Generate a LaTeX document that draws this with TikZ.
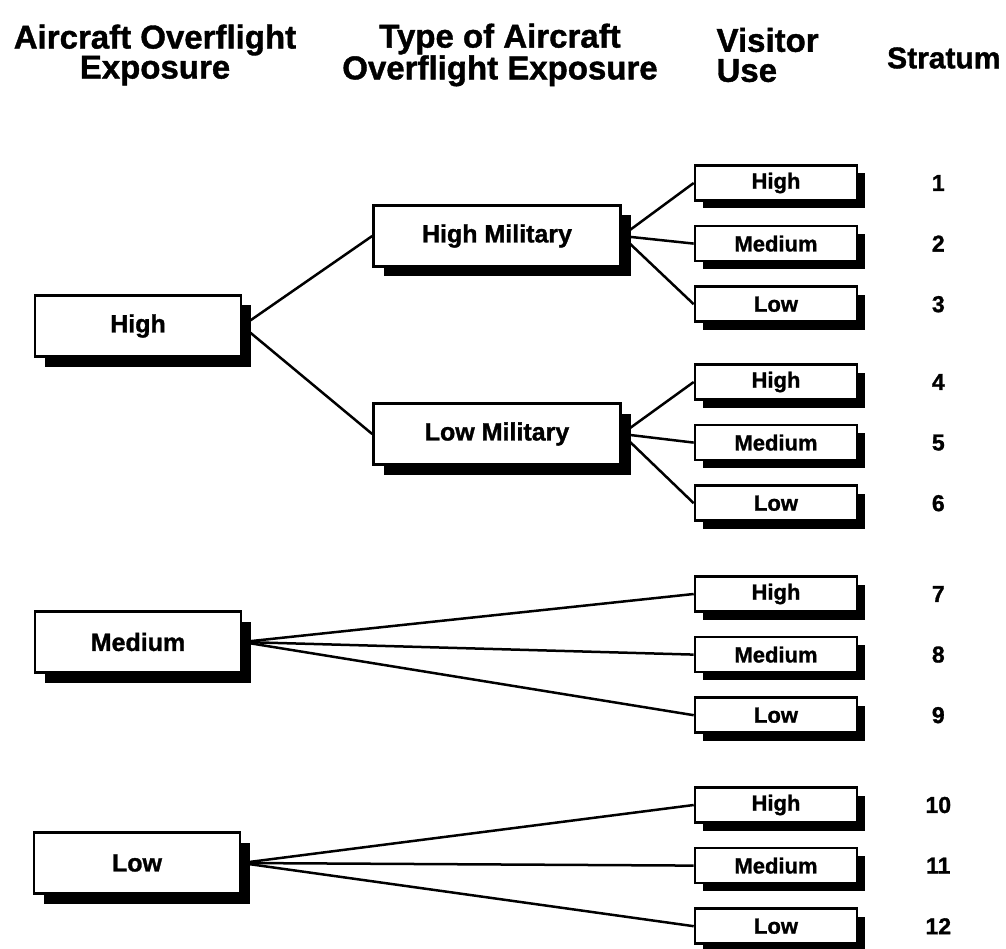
\documentclass[tikz,border=0pt]{standalone}
\usepackage{fontspec}
\setmainfont{Liberation Sans}[BoldFeatures={FakeBold=1.2}]
\usetikzlibrary{positioning, shadows}

\begin{document}
\begin{tikzpicture}[x=1pt, y=-1pt, node distance=23pt,
    box/.style={draw, line width=2.6pt, fill=white, inner sep=0pt},
    big/.style={box, minimum width=206pt, minimum height=61pt,
        font=\fontsize{25}{30}\selectfont\bfseries,
        drop shadow={shadow xshift=10pt, shadow yshift=-10pt, fill=black, opacity=1}},
    mid/.style={big, minimum width=247pt},
    usebox/.style={box, minimum width=162pt, minimum height=35pt,
        font=\fontsize{22}{26}\selectfont\bfseries,
        drop shadow={shadow xshift=8pt, shadow yshift=-8pt, fill=black, opacity=1}},
    heading/.style={align=center, font=\fontsize{33}{30}\selectfont\bfseries},
    stratum/.style={font=\fontsize{23}{26}\selectfont\bfseries},
    link/.style={line width=2.5pt}]
    \useasboundingbox (0,0) rectangle (1006,949);
    % column titles
    \node[heading] (hAir) at (155,55) {Aircraft Overflight\\Exposure};
    \node[heading] (hType) at (500,55) {Type of Aircraft\\Overflight Exposure};
    \node[heading, align=left, anchor=west] (hVis) at (713,55) {Visitor\\Use};
    \node[heading, anchor=east, font=\fontsize{30}{31}\selectfont\bfseries] (hStr) at (1004,58) {Stratum};
    % exposure
    \node[big] (high) at (138,326) {High};
    \node[big] (medium) at (138,642) {Medium};
    \node[big] (low) at (137,863) {Low};
    \node[mid] (hmil) at (497,236) {High Military};
    \node[mid] (lmil) at (497,434) {Low Military};
    % visitor use
    \node[usebox] (v1) at (776,183) {High};
    \node[usebox, below=of v1] (v2) {Medium};
    \node[usebox, below=of v2] (v3) {Low};
    \node[usebox] (v4) at (776,382) {High};
    \node[usebox, below=of v4] (v5) {Medium};
    \node[usebox, below=of v5] (v6) {Low};
    \node[usebox] (v7) at (776,594) {High};
    \node[usebox, below=of v7] (v8) {Medium};
    \node[usebox, below=of v8] (v9) {Low};
    \node[usebox] (v10) at (776,805) {High};
    \node[usebox, below=of v10] (v11) {Medium};
    \node[usebox, below=of v11] (v12) {Low};
    % stratum numbers
    \node[stratum, right=80pt of v1, anchor=center] (s1) {1};
    \node[stratum, right=80pt of v2, anchor=center] (s2) {2};
    \node[stratum, right=80pt of v3, anchor=center] (s3) {3};
    \node[stratum, right=80pt of v4, anchor=center] (s4) {4};
    \node[stratum, right=80pt of v5, anchor=center] (s5) {5};
    \node[stratum, right=80pt of v6, anchor=center] (s6) {6};
    \node[stratum, right=80pt of v7, anchor=center] (s7) {7};
    \node[stratum, right=80pt of v8, anchor=center] (s8) {8};
    \node[stratum, right=80pt of v9, anchor=center] (s9) {9};
    \node[stratum, right=80pt of v10, anchor=center] (s10) {10};
    \node[stratum, right=80pt of v11, anchor=center] (s11) {11};
    \node[stratum, right=80pt of v12, anchor=center] (s12) {12};
    \draw[link] (high.east)--(hmil.west);
    \draw[link] (high.east)--(lmil.west);
    \draw[link] (hmil.east)--(v1.west);
    \draw[link] (hmil.east)--(v2.west);
    \draw[link] (hmil.east)--(v3.west);
    \draw[link] (lmil.east)--(v4.west);
    \draw[link] (lmil.east)--(v5.west);
    \draw[link] (lmil.east)--(v6.west);
    \draw[link] (medium.east)--(v7.west);
    \draw[link] (medium.east)--(v8.west);
    \draw[link] (medium.east)--(v9.west);
    \draw[link] (low.east)--(v10.west);
    \draw[link] (low.east)--(v11.west);
    \draw[link] (low.east)--(v12.west);
\end{tikzpicture}
\end{document}
